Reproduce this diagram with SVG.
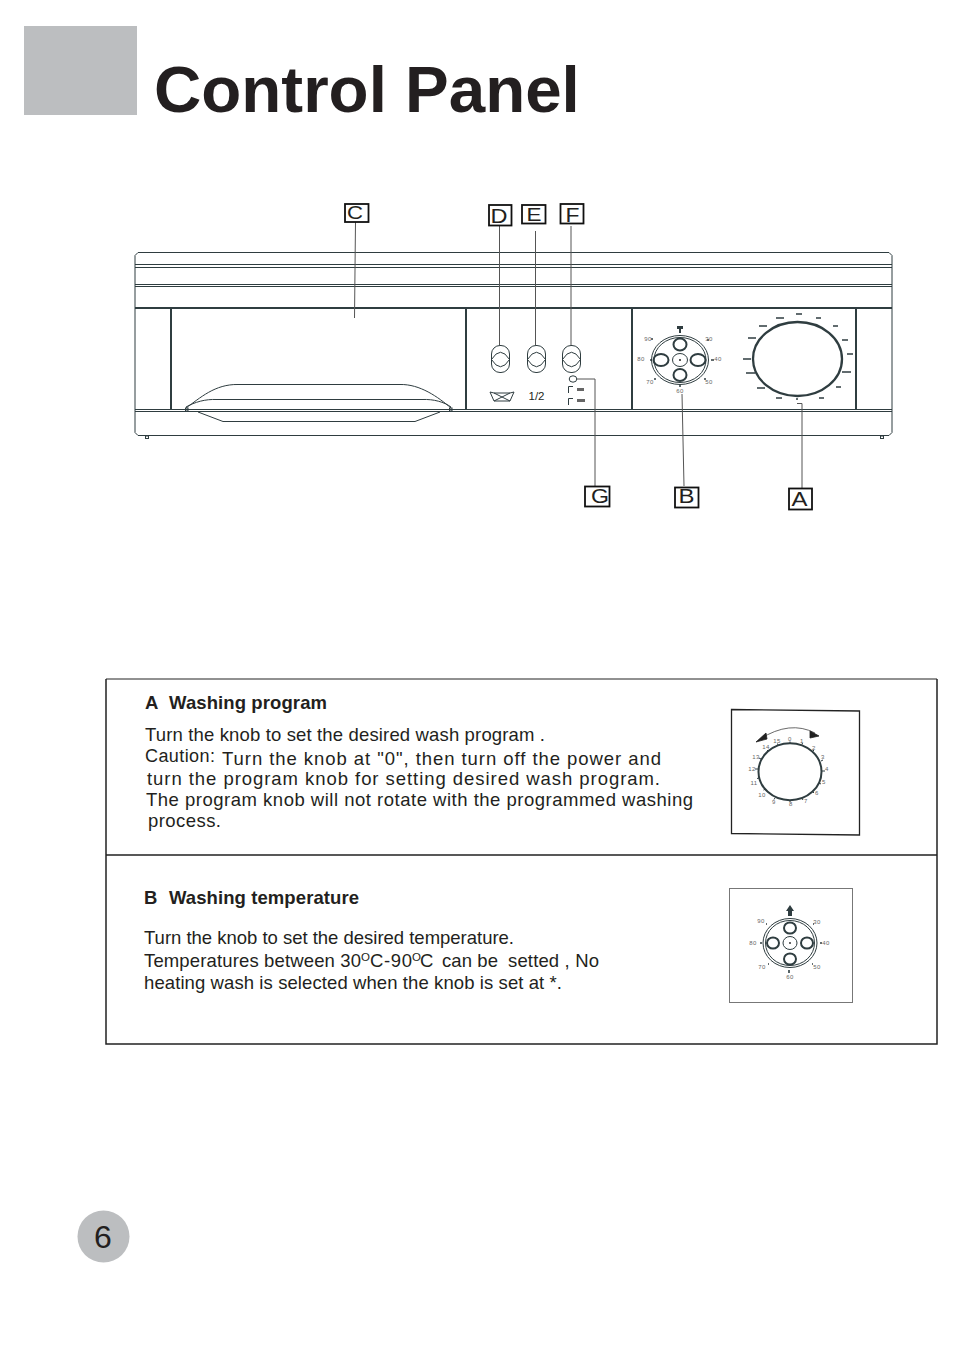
<svg xmlns="http://www.w3.org/2000/svg" width="954" height="1349" viewBox="0 0 954 1349">
<style>
text{font-family:"Liberation Sans",Arial,sans-serif;fill:#231f20}
.ln{fill:none;stroke:#2f3d40;stroke-width:1}
.th{fill:none;stroke:#2f3d40;stroke-width:2}
.box{fill:#fff;stroke:#111;stroke-width:1.800}
.lead{fill:none;stroke:#555;stroke-width:1}
.s{font-size:6px;fill:#666;text-anchor:middle;letter-spacing:.5px}
.t{font-size:18.500px}
.b{font-size:18.500px;font-weight:bold}
.tk{stroke:#2f3d40;stroke-width:1.600;fill:none}
</style>
<rect width="954" height="1349" fill="#fff"/>
<rect id="title-block" x="24" y="26" width="113" height="89" fill="#bcbec0"/>
<text id="title" x="154" y="112" font-size="65.500" font-weight="bold">Control Panel</text>
<g id="panel">
<path class="ln" d="M138 252.500H889L892 255.500V432.500L889 435.500H138L135 432.500V255.500Z"/>
<path class="ln" d="M135 264.500H892M135 267.500H892M135 284.500H892M135 286.500H892M135 409.500H892M135 411.500H892"/>
<path class="th" d="M135 308H892M171 308V409M466 308V409M632 308V409M856 308V409"/>
<rect class="ln" x="145.500" y="436" width="3" height="2.500"/><rect class="ln" x="880.500" y="436" width="3" height="2.500"/>
</g>
<g id="handle" class="ln">
<path d="M186 408C200 398 215 384 238 384.500H400C420 384 438 397 451 408"/>
<path d="M186 407C195 402 205 399 217 399.500H422C434 399 444 402 451 407"/>
<path d="M198 412L223 421.500H415L440 412"/>
<rect x="185.500" y="408" width="2.500" height="3"/><rect x="449.500" y="408" width="2.500" height="3"/>
</g>
<g id="knob-d" class="ln"><rect x="491.500" y="345.500" width="18" height="27" rx="8.500"/><path d="M491.500 359.500Q500.500 345 509.500 359.500Q500.500 374 491.500 359.500Z"/></g>
<g id="knob-e" class="ln"><rect x="527.500" y="345.500" width="18" height="27" rx="8.500"/><path d="M527.500 359.500Q536.500 345 545.500 359.500Q536.500 374 527.500 359.500Z"/></g>
<g id="knob-f" class="ln"><rect x="562.500" y="345.500" width="18" height="27" rx="8.500"/><path d="M562.500 359.500Q571.500 345 580.500 359.500Q571.500 374 562.500 359.500Z"/></g>
<g id="half-load">
<path class="ln" d="M490 392L494 393H510L514 392L510 401H494ZM494 393L510 401M510 393L494 401"/>
<text x="536.500" y="400" font-size="11.500" text-anchor="middle" fill="#555">1/2</text>
</g>
<g id="indicator-g">
<ellipse class="ln" cx="573" cy="379" rx="3.800" ry="3.200"/>
<path class="ln" d="M573 386.500H568.500V393M573 398.500H568.500V405"/>
<rect x="577" y="388" width="7" height="3" fill="#666"/><rect x="577" y="399" width="8" height="3" fill="#666"/>
</g>
<g id="dial-b">
<ellipse class="ln" cx="680" cy="360" rx="28.500" ry="24.500"/>
<ellipse class="ln" cx="680" cy="360" rx="26" ry="22.500"/>
<ellipse class="ln" cx="680" cy="360" rx="7.500" ry="6.500"/>
<circle cx="680" cy="360" r="1" fill="#222"/>
<ellipse class="th" cx="680" cy="344.500" rx="6.500" ry="6"/><ellipse class="th" cx="680" cy="375" rx="6.500" ry="6"/>
<ellipse class="th" cx="661" cy="360" rx="7.500" ry="6"/><ellipse class="th" cx="698" cy="360" rx="7.500" ry="6"/>
<path d="M677 326h6v3h-2v4h-2v-4h-2Z" fill="#2f3d40"/>
<path class="tk" d="M651 339h2M707 340h2M654 379h2M704 379h2M650 360h2M711 360h3M679 386h2"/>
<text class="s" x="648" y="341">90</text><text class="s" x="709" y="341">30</text><text class="s" x="641" y="361">80</text><text class="s" x="718" y="361">40</text><text class="s" x="650" y="384">70</text><text class="s" x="709" y="384">50</text><text class="s" x="680" y="393">60</text>
</g>
<g id="dial-a">
<ellipse cx="797.500" cy="359" rx="44.500" ry="37" fill="none" stroke="#2f3d40" stroke-width="2.300"/>
<path class="tk" d="M776 318h8M759 326h8M748 338h8M743 359h8M746 373h9M757 388h8M776 398h6M796 399h2M819 398h5M836 387h5M842 372h9M847 354h6M842 340h6M833 326h5M816 318h5M796 314h6"/>
</g>
<g id="connectors">
<path class="lead" d="M355.500 222L354.500 318M499.500 226V345M535.500 231V345M571 226V345M577 379H595V486M682 394L684 486M797 403.500H802V488"/>
</g>
<g id="label-c"><rect class="box" x="345" y="204" width="23.500" height="18"/><text x="347" y="219" font-size="18.500" textLength="16" lengthAdjust="spacingAndGlyphs">C</text></g>
<g id="label-d"><rect class="box" x="489" y="205" width="22.500" height="20.500"/><text x="490.500" y="222.500" font-size="21" textLength="17" lengthAdjust="spacingAndGlyphs">D</text></g>
<g id="label-e"><rect class="box" x="522" y="205" width="23.500" height="18.500"/><text x="526.500" y="221" font-size="18.500" textLength="15" lengthAdjust="spacingAndGlyphs">E</text></g>
<g id="label-f"><rect class="box" x="560.500" y="204" width="23" height="19.500"/><text x="565.500" y="221.500" font-size="19.500" textLength="14" lengthAdjust="spacingAndGlyphs">F</text></g>
<g id="label-g"><rect class="box" x="585" y="486.500" width="24.500" height="20"/><text x="591" y="503" font-size="19.500" textLength="18" lengthAdjust="spacingAndGlyphs">G</text></g>
<g id="label-b"><rect class="box" x="675" y="487.500" width="23.500" height="20"/><text x="678.500" y="503" font-size="19.500" textLength="16" lengthAdjust="spacingAndGlyphs">B</text></g>
<g id="label-a"><rect class="box" x="789" y="488.500" width="23" height="21"/><text x="791.500" y="505.500" font-size="21" textLength="16" lengthAdjust="spacingAndGlyphs">A</text></g>
<g id="info-table">
<path d="M106 679H937" fill="none" stroke="#222" stroke-width="1"/>
<path d="M937 679V1044H106V679M106 855H937" fill="none" stroke="#222" stroke-width="1.500"/>
</g>
<g id="section-a">
<text class="b" x="145" y="709">A</text><text class="b" x="169" y="709" textLength="158">Washing program</text>
<text class="t" x="145" y="741" textLength="400">Turn the knob to set the desired wash program .</text>
<text x="145" y="762" font-size="18" textLength="70">Caution:</text>
<text class="t" x="222" y="765" textLength="439">Turn the knob at "0", then turn off the power and</text>
<text class="t" x="147" y="785" textLength="513">turn the program knob for setting desired wash program.</text>
<text class="t" x="146" y="805.500" textLength="547">The program knob will not rotate with the programmed washing</text>
<text class="t" x="148" y="827" textLength="73">process.</text>
</g>
<g id="figure-a">
<path d="M731.500 709.500L859.500 711V835L731.500 833.500Z" fill="none" stroke="#222" stroke-width="1.300"/>
<ellipse cx="790" cy="771.700" rx="31.500" ry="28.500" fill="none" stroke="#2f3d40" stroke-width="2"/>
<path d="M760 739Q790 720 815 733" fill="none" stroke="#444" stroke-width=".8"/>
<path d="M756 742L766 733L767 739Z M810 731L819 736L810 738Z" fill="#222" stroke="#222" stroke-width=".8"/>
<path class="ln" d="M790 743v-1.500M802 744.500l.5-1.500M813 751l1-1M821 761l2-1M822 771h3M819 783l2 1M813 792l1 1M802 798.500l1 1.500M790 800.500v1.500M775 798l-1 1.500M765 789l-1.500 1M759 778l-2 .5M758 769h-3M761 759l-2-1M768 751l-1-1M778 745l-.5-1.500"/>
<text class="s" x="790" y="741">0</text><text class="s" x="802" y="743">1</text><text class="s" x="814" y="750">2</text><text class="s" x="823" y="759">3</text><text class="s" x="827" y="771">4</text><text class="s" x="824" y="784">5</text><text class="s" x="817" y="795">6</text><text class="s" x="806" y="803">7</text><text class="s" x="791" y="806">8</text><text class="s" x="774" y="804">9</text><text class="s" x="762" y="797">10</text><text class="s" x="754" y="785">11</text><text class="s" x="752" y="771">12</text><text class="s" x="756" y="759">13</text><text class="s" x="766" y="749">14</text><text class="s" x="777" y="743">15</text>
</g>
<g id="section-b">
<text class="b" x="144" y="904">B</text><text class="b" x="169" y="904" textLength="190">Washing temperature</text>
<text class="t" x="144" y="944" textLength="370">Turn the knob to set the desired temperature.</text>
<text class="t" x="144" y="967" textLength="217">Temperatures between 30</text>
<text x="361" y="961" font-size="11.500">O</text>
<text class="t" x="370" y="967" textLength="42">C-90</text>
<text x="412" y="961" font-size="11.500">O</text>
<text class="t" x="420" y="967" textLength="12">C</text>
<text class="t" x="442" y="967" textLength="56">can be</text>
<text class="t" x="508" y="967" textLength="91">setted , No</text>
<text class="t" x="144" y="989" textLength="418">heating wash is selected when the knob is set at *.</text>
</g>
<g id="figure-b">
<rect x="729.500" y="888.500" width="123" height="114" fill="none" stroke="#777" stroke-width="1"/>
<ellipse class="ln" cx="790" cy="943" rx="27" ry="24.500"/><ellipse class="ln" cx="790" cy="943" rx="24.500" ry="22.500"/>
<ellipse class="ln" cx="790" cy="943" rx="7" ry="6.500"/><circle cx="790" cy="943" r=".9" fill="#222"/>
<ellipse class="th" cx="790" cy="928" rx="6" ry="5.500"/><ellipse class="th" cx="790" cy="959" rx="6" ry="5.500"/>
<ellipse class="th" cx="773" cy="943" rx="6" ry="5.500"/><ellipse class="th" cx="807" cy="943" rx="6" ry="5.500"/>
<path d="M790 905L794 911H792V916H788V911H786Z" fill="#2f3d40"/>
<path class="tk" d="M766 924h1M813 924h1M760 943h2M820 943h2M768 964h1M812 964h1M789 970v3"/>
<text class="s" x="761" y="923">90</text><text class="s" x="817" y="924">30</text><text class="s" x="753" y="945">80</text><text class="s" x="826" y="945">40</text><text class="s" x="762" y="969">70</text><text class="s" x="817" y="969">50</text><text class="s" x="790" y="979">60</text>
</g>
<g id="page-number">
<circle cx="103.500" cy="1236.500" r="26" fill="#bcbec0"/>
<text x="103" y="1248" font-size="32" text-anchor="middle">6</text>
</g>
</svg>
